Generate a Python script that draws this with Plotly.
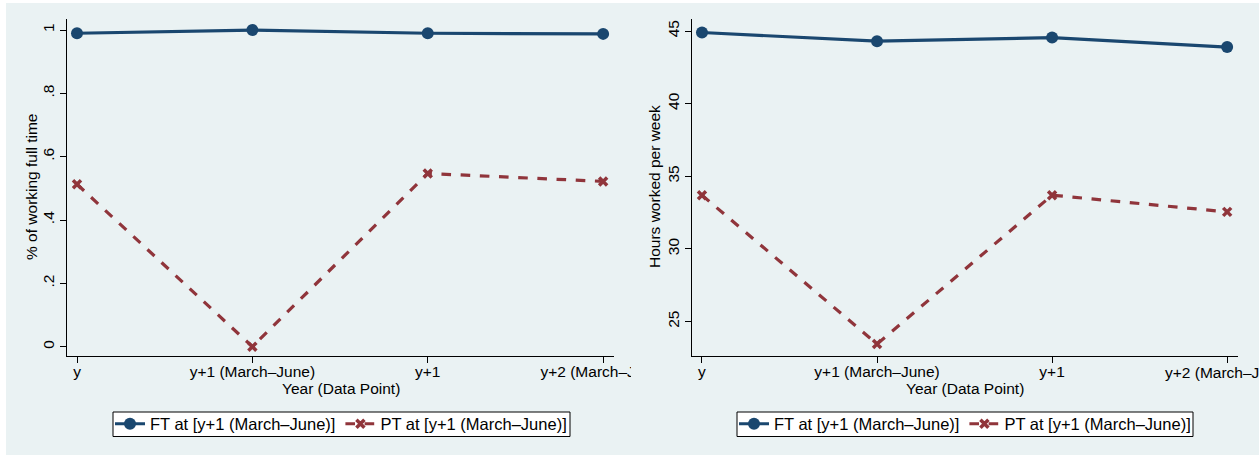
import plotly.graph_objects as go

W, H = 1259, 455

categories = ["y", "y+1 (March\u2013June)", "y+1", "y+2 (March\u2013June)"]
x_pos = [0, 1, 2, 3]

ft_share = [0.99, 1.0, 0.99, 0.988]
pt_share = [0.513, 0.0, 0.547, 0.522]

ft_hours = [44.9, 44.3, 44.55, 43.9]
pt_hours = [33.7, 23.45, 33.7, 32.55]

share_ticks = [0, 0.2, 0.4, 0.6, 0.8, 1.0]
share_ticktext = ["0", ".2", ".4", ".6", ".8", "1"]
hours_ticks = [25, 30, 35, 40, 45]

legend_ft = "FT at [y+1 (March\u2013June)]"
legend_pt = "PT at [y+1 (March\u2013June)]"
x_title = "Year (Data Point)"

NAVY = "#1a476f"
MAROON = "#90353b"
BG = "#eaf2f3"
FONT = "Liberation Sans, Arial, sans-serif"
FS = 15.5
LFS = 16.5


def px(v):
    return v / W


def py(v):
    return (H - v) / H


fig = go.Figure()

# left panel
fig.add_trace(go.Scatter(x=x_pos, y=ft_share, mode="lines+markers", name=legend_ft,
                         line=dict(color=NAVY, width=3.2),
                         marker=dict(symbol="circle", size=12, color=NAVY),
                         xaxis="x", yaxis="y", legend="legend"))
fig.add_trace(go.Scatter(x=x_pos, y=pt_share, mode="lines+markers", name=legend_pt,
                         line=dict(color=MAROON, width=3.2, dash="dash"),
                         marker=dict(symbol="x-thin-open", size=8, color=MAROON,
                                     line=dict(width=3.5, color=MAROON)),
                         xaxis="x", yaxis="y", legend="legend"))
# right panel
fig.add_trace(go.Scatter(x=x_pos, y=ft_hours, mode="lines+markers", name=legend_ft,
                         line=dict(color=NAVY, width=3.2),
                         marker=dict(symbol="circle", size=12, color=NAVY),
                         xaxis="x2", yaxis="y2", legend="legend2"))
fig.add_trace(go.Scatter(x=x_pos, y=pt_hours, mode="lines+markers", name=legend_pt,
                         line=dict(color=MAROON, width=3.2, dash="dash"),
                         marker=dict(symbol="x-thin-open", size=8, color=MAROON,
                                     line=dict(width=3.5, color=MAROON)),
                         xaxis="x2", yaxis="y2", legend="legend2"))

ydom = [py(355.5), py(19)]
xcommon = dict(tickvals=x_pos, range=[-0.057, 3.062],
               showline=True, linecolor="black", linewidth=1, ticks="outside",
               ticklen=6, tickcolor="black", showgrid=False, zeroline=False,
               tickfont=dict(size=FS, color="black"), automargin=False,
               ticklabelstandoff=-4)
ycommon = dict(showline=True, linecolor="black", linewidth=1, ticks="outside",
               ticklen=6, tickcolor="black", showgrid=True, gridcolor=BG, gridwidth=1,
               zeroline=False, tickangle=-90, tickfont=dict(size=FS, color="black"),
               automargin=False)

ymid = py(187)

# right panel: last tick label drawn as an annotation so it is clipped at the page edge
right_ticktext = categories[:3] + [""]

legend_common = dict(orientation="h", xanchor="center", yanchor="middle",
                     bgcolor="rgba(0,0,0,0)", borderwidth=0,
                     font=dict(size=LFS, color="black"), itemwidth=30, tracegroupgap=0)

fig.update_layout(
    width=W, height=H, autosize=False,
    margin=dict(l=0, r=0, t=0, b=0, pad=0, autoexpand=False),
    paper_bgcolor="white", plot_bgcolor="white",
    font=dict(family=FONT, size=FS, color="black"),
    xaxis=dict(domain=[px(67), px(614)], anchor="y", ticktext=categories, **xcommon),
    yaxis=dict(domain=ydom, anchor="x", range=[-0.028, 1.035], tickvals=share_ticks,
               ticktext=share_ticktext, **ycommon),
    xaxis2=dict(domain=[px(692), px(1238)], anchor="y2", ticktext=right_ticktext, **xcommon),
    yaxis2=dict(domain=ydom, anchor="x2", range=[22.66, 45.83], tickvals=hours_ticks,
                **ycommon),
    legend=dict(x=px(341), y=py(424), **legend_common),
    legend2=dict(x=px(965), y=py(424), **legend_common),
    annotations=[
        dict(text="% of working full time", xref="paper", yref="paper", x=px(31), y=ymid,
             textangle=-90, showarrow=False, xanchor="center", yanchor="middle",
             font=dict(size=FS, color="black")),
        dict(text="Hours worked per week", xref="paper", yref="paper", x=px(654), y=ymid,
             textangle=-90, showarrow=False, xanchor="center", yanchor="middle",
             font=dict(size=FS, color="black")),
        dict(text=x_title, xref="paper", yref="paper", x=px(341), y=py(388),
             showarrow=False, xanchor="center", yanchor="middle",
             font=dict(size=FS, color="black")),
        dict(text=x_title, xref="paper", yref="paper", x=px(965), y=py(388),
             showarrow=False, xanchor="center", yanchor="middle",
             font=dict(size=FS, color="black")),
        dict(text=categories[3], xref="x2", yref="paper", x=x_pos[3], y=py(362),
             showarrow=False, xanchor="center", yanchor="top",
             font=dict(size=FS, color="black")),
    ],
    shapes=[
        dict(type="rect", xref="paper", yref="paper", x0=px(6), x1=1, y0=0, y1=py(3),
             fillcolor=BG, line=dict(width=0), layer="below"),
        dict(type="rect", xref="paper", yref="paper", x0=px(113), x1=px(570), y0=py(436.5), y1=py(412),
             fillcolor="white", line=dict(width=1, color="black"), layer="below"),
        dict(type="rect", xref="paper", yref="paper", x0=px(737), x1=px(1193), y0=py(436.5), y1=py(412),
             fillcolor="white", line=dict(width=1, color="black"), layer="below"),
        dict(type="rect", xref="paper", yref="paper", x0=px(631), x1=px(688), y0=py(384), y1=py(360),
             fillcolor=BG, line=dict(width=0), layer="above"),
    ],
)

post = ("document.body.style.margin='0';document.body.style.overflow='hidden';"
        "var d=document.getElementById('{plot_id}');d.style.overflow='hidden';")
fig.write_html("out.html", post_script=post)
